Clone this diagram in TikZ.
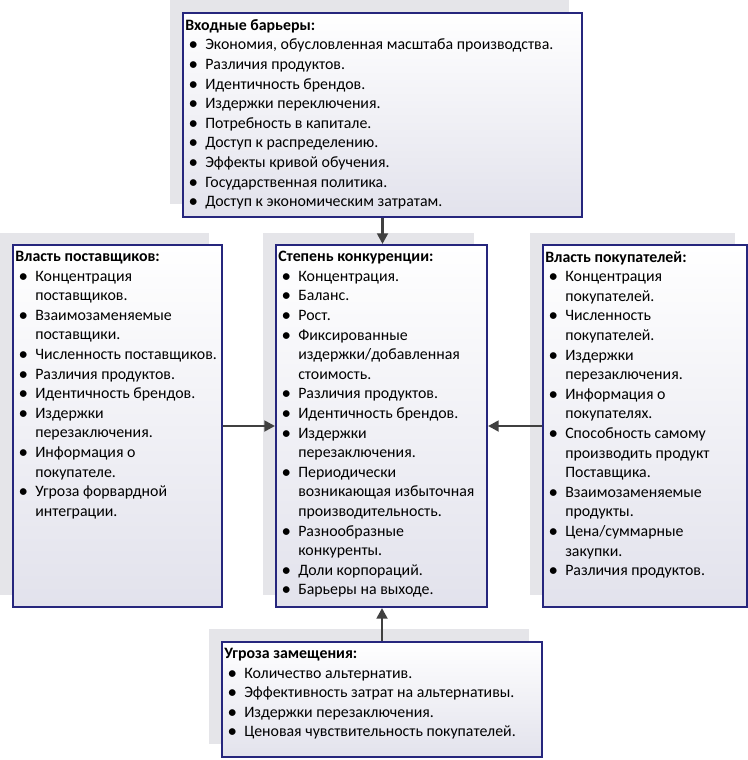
\documentclass[tikz,border=0pt]{standalone}
\usepackage{fontspec}
\setmainfont{Carlito}
\usetikzlibrary{arrows.meta,fit}
\newlength\pxu \setlength\pxu{0.75pt}
\newcommand\itm{\hspace*{4\pxu}\makebox[16\pxu][l]{\textbf{•}}}
\newcommand\cnt{\hspace*{20\pxu}}
\definecolor{navy}{RGB}{38,38,125}
\definecolor{shad}{RGB}{229,229,233}
\definecolor{boxbot}{RGB}{226,226,236}
\definecolor{arrc}{RGB}{64,64,64}
\begin{document}
\begin{tikzpicture}[x=0.75pt,y=-0.75pt,
  box/.style={draw=navy,line width=1.5pt,top color=white,bottom color=boxbot,inner sep=0pt},
  shadowbox/.style={fill=shad},
  txt/.style={anchor=north west,inner sep=0pt,align=left,font=\fontsize{11.9}{14.7}\selectfont},
  arr/.style={draw=arrc,line width=2.2pt,-{Triangle[length=8pt,width=8pt]}}]
\useasboundingbox (0,0) rectangle (748,760);
% shadows
\fill[shadowbox] (170,0) rectangle (569,204);
\fill[shadowbox] (0,233) rectangle (209,595);
\fill[shadowbox] (263,233) rectangle (474,595);
\fill[shadowbox] (530,233) rectangle (735,595);
\fill[shadowbox] (209,629) rectangle (529,744);
% boxes
\node[box,fit={(183,13)(582,217)}] (top) {};
\node[box,fit={(13,245)(222,607)}] (left) {};
\node[box,fit={(276,245)(487,607)}] (mid) {};
\node[box,fit={(543,245)(747,607)}] (right) {};
\node[box,fit={(222,642)(542,757)}] (bot) {};
% texts
\node[txt] (toptext) at (185,19) {\textbf{Входные барьеры:}\\
\itm Экономия, обусловленная масштаба производства.\\
\itm Различия продуктов.\\
\itm Идентичность брендов.\\
\itm Издержки переключения.\\
\itm Потребность в капитале.\\
\itm Доступ к распределению.\\
\itm Эффекты кривой обучения.\\
\itm Государственная политика.\\
\itm Доступ к экономическим затратам.};
\node[txt] (lefttext) at (15,251) {\textbf{Власть поставщиков:}\\
\itm Концентрация\\
\cnt поставщиков.\\
\itm Взаимозаменяемые\\
\cnt поставщики.\\
\itm Численность поставщиков.\\
\itm Различия продуктов.\\
\itm Идентичность брендов.\\
\itm Издержки\\
\cnt перезаключения.\\
\itm Информация о\\
\cnt покупателе.\\
\itm Угроза форвардной\\
\cnt интеграции.};
\node[txt] (midtext) at (278,251) {\textbf{Степень конкуренции:}\\
\itm Концентрация.\\
\itm Баланс.\\
\itm Рост.\\
\itm Фиксированные\\
\cnt издержки/добавленная\\
\cnt стоимость.\\
\itm Различия продуктов.\\
\itm Идентичность брендов.\\
\itm Издержки\\
\cnt перезаключения.\\
\itm Периодически\\
\cnt возникающая избыточная\\
\cnt производительность.\\
\itm Разнообразные\\
\cnt конкуренты.\\
\itm Доли корпораций.\\
\itm Барьеры на выходе.};
\node[txt] (righttext) at (545,251) {\textbf{Власть покупателей:}\\
\itm Концентрация\\
\cnt покупателей.\\
\itm Численность\\
\cnt покупателей.\\
\itm Издержки\\
\cnt перезаключения.\\
\itm Информация о\\
\cnt покупателях.\\
\itm Способность самому\\
\cnt производить продукт\\
\cnt Поставщика.\\
\itm Взаимозаменяемые\\
\cnt продукты.\\
\itm Цена/суммарные\\
\cnt закупки.\\
\itm Различия продуктов.};
\node[txt] (bottext) at (224,648) {\textbf{Угроза замещения:}\\
\itm Количество альтернатив.\\
\itm Эффективность затрат на альтернативы.\\
\itm Издержки перезаключения.\\
\itm Ценовая чувствительность покупателей.};
% arrows
\draw[arr] (top.south) -- (top.south |- mid.north);
\draw[arr] (left.east) -- (left.east -| mid.west);
\draw[arr] (right.west) -- (right.west -| mid.east);
\draw[arr] (bot.north) -- (bot.north |- mid.south);
\end{tikzpicture}
\end{document}
